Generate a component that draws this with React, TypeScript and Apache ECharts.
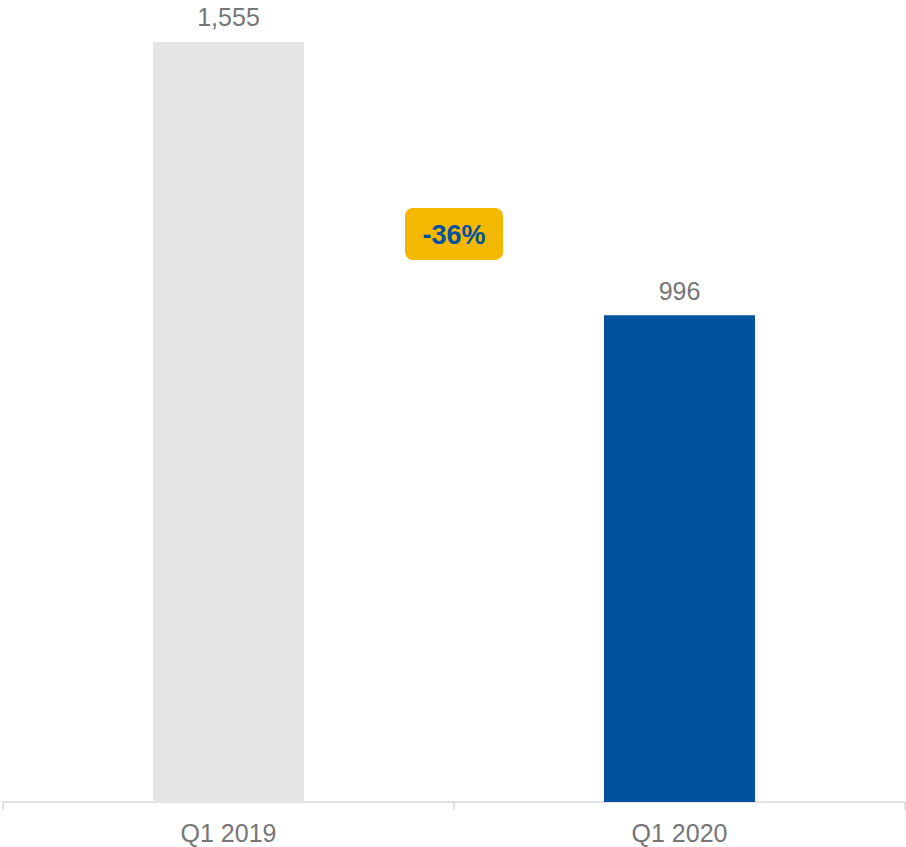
import React, { useEffect, useRef } from "react";
import * as echarts from "echarts";

const categories = ["Q1 2019", "Q1 2020"];
const values = [1555, 996];
const barColors = ["#e5e5e5", "#00529f"];
const changeLabel = "-36%";

export default function App() {
  const ref = useRef<HTMLDivElement>(null);
  useEffect(() => {
    if (!ref.current) return;
    const chart = echarts.init(ref.current, null, { renderer: "svg" });
    chart.setOption({
      animation: false,
      grid: { left: 3, right: 1, top: 20, bottom: 45, containLabel: false },
      xAxis: {
        type: "category",
        data: categories,
        axisLine: { lineStyle: { color: "#d9d9d9", width: 1.5 } },
        axisTick: { show: true, length: 8, lineStyle: { color: "#d9d9d9", width: 1.5 } },
        axisLabel: {
          color: "#767676",
          fontSize: 25,
          fontFamily: "Liberation Sans, Arial, sans-serif",
          margin: 18,
        },
      },
      yAxis: {
        type: "value",
        min: 0,
        max: 1600,
        show: false,
        splitLine: { show: false },
      },
      series: [
        {
          type: "bar",
          barWidth: "33.5%",
          data: values.map((v, i) => ({ value: v, itemStyle: { color: barColors[i] } })),
          label: {
            show: true,
            position: "top",
            distance: 12,
            color: "#767676",
            fontSize: 25,
            fontFamily: "Liberation Sans, Arial, sans-serif",
            formatter: (p: any) => p.value.toLocaleString("en-US"),
          },
        },
      ],
      graphic: [
        {
          type: "group",
          left: 405,
          top: 208,
          children: [
            {
              type: "rect",
              shape: { x: 0, y: 0, width: 98, height: 52, r: 8 },
              style: { fill: "#f5b800" },
            },
            {
              type: "text",
              x: 49,
              y: 27,
              style: {
                text: changeLabel,
                fill: "#00529f",
                font: "bold 27px Liberation Sans, Arial, sans-serif",
                align: "center",
                verticalAlign: "middle",
              },
            },
          ],
        },
      ],
    });
    return () => chart.dispose();
  }, []);
  return <div ref={ref} style={{ width: 906, height: 847, position: "absolute", left: 0, top: 0 }} />;
}
